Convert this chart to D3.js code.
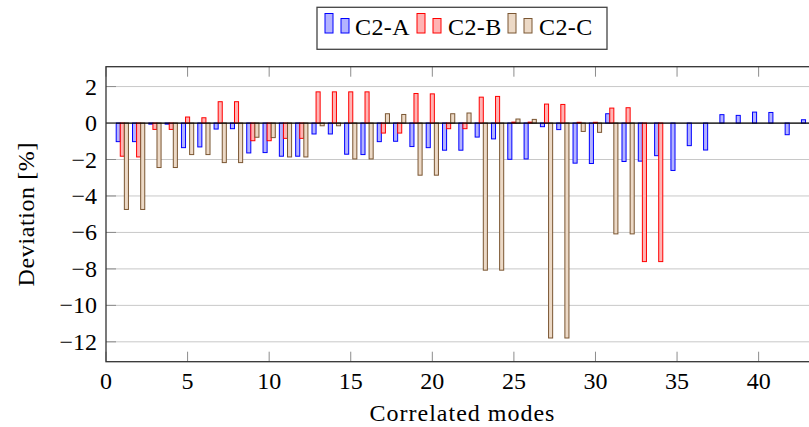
<!DOCTYPE html>
<html>
<head>
<meta charset="utf-8">
<script src="https://cdn.jsdelivr.net/npm/d3@7"></script>
<style>
  html, body { margin: 0; padding: 0; background: #fff; }
  svg { display: block; }
  text { font-family: "Liberation Serif", "Times New Roman", serif; fill: #000; }
</style>
</head>
<body>
<svg id="chart" width="809" height="427"></svg>
<script>
// Correlated mode index (1..43)
const modes = d3.range(1, 44);

// Deviation [%] per mode for each configuration
const c2a = [-1.02, -1.02, -0.06, -0.06, -1.35, -1.31, -0.33, -0.31, -1.64, -1.62,
             -1.82, -1.82, -0.60, -0.60, -1.71, -1.73, -1.02, -1.00, -1.29, -1.35,
             -1.49, -1.49, -0.77, -0.87, -1.99, -1.97, -0.20, -0.36, -2.20, -2.22,
              0.51, -2.11, -2.09, -1.79, -2.60, -1.24, -1.48,  0.46,  0.42,  0.60,
              0.58, -0.64,  0.18];
const c2b = [-1.82, -1.86, -0.35, -0.35,  0.33,  0.29,  1.17,  1.17, -0.97, -0.97,
             -0.84, -0.84,  1.71,  1.71,  1.71,  1.71, -0.55, -0.55,  1.62,  1.60,
             -0.31, -0.31,  1.42,  1.46,  0.05,  0.05,  1.04,  1.02,  0.04,  0.04,
              0.82,  0.84, -7.60, -7.60];
const c2c = [-4.74, -4.74, -2.44, -2.44, -1.73, -1.73, -2.17, -2.17, -0.78, -0.80,
             -1.86, -1.86, -0.15, -0.15, -1.97, -1.97,  0.51,  0.47, -2.86, -2.86,
              0.51,  0.55, -8.07, -8.07,  0.22,  0.20, -11.79, -11.79, -0.46, -0.51,
             -6.08, -6.08];

const seriesNames = ["C2-A", "C2-B", "C2-C"];
const xTicks = [0, 5, 10, 15, 20, 25, 30, 35, 40];
const yTicks = [-12, -10, -8, -6, -4, -2, 0, 2];

const styles = [
  { stroke: "#0000ff", fill: "#b3b3ff" },
  { stroke: "#ff0000", fill: "#ffb3b3" },
  { stroke: "#7a5632", fill: "#ecd9c6" }
];

const svg = d3.select("#chart");
const plotLeft = 106, plotRight = 819, plotTop = 66.7, plotBottom = 361.7;

const x = d3.scaleLinear().domain([0, 43.7]).range([plotLeft, plotRight]);
const y = d3.scaleLinear().domain([-13.09, 3.09]).range([plotBottom, plotTop]);

// horizontal grid
svg.append("g")
  .selectAll("line").data(yTicks).join("line")
  .attr("x1", plotLeft).attr("x2", plotRight)
  .attr("y1", d => y(d)).attr("y2", d => y(d))
  .attr("stroke", "#c8c8c8").attr("stroke-width", 1);

// bars: three series side by side around each mode
const barW = 0.25;
const offsets = [-0.25, 0, 0.25];
[c2a, c2b, c2c].forEach((vals, s) => {
  const data = vals.map((v, i) => ({ m: modes[i], v }));
  svg.append("g")
    .selectAll("rect").data(data).join("rect")
    .attr("x", d => x(d.m + offsets[s] - barW / 2))
    .attr("width", x(barW) - x(0))
    .attr("y", d => y(Math.max(0, d.v)))
    .attr("height", d => Math.abs(y(d.v) - y(0)))
    .attr("fill", styles[s].fill)
    .attr("stroke", styles[s].stroke)
    .attr("stroke-width", 1);
});

// zero line
svg.append("line")
  .attr("x1", plotLeft).attr("x2", plotRight)
  .attr("y1", y(0)).attr("y2", y(0))
  .attr("stroke", "#000").attr("stroke-width", 1.2);

// tick marks (inside the frame)
const tickLen = 10;
const tickG = svg.append("g").attr("stroke", "#8c8c8c").attr("stroke-width", 1);
xTicks.forEach(t => {
  tickG.append("line").attr("x1", x(t)).attr("x2", x(t)).attr("y1", plotBottom).attr("y2", plotBottom - tickLen);
  tickG.append("line").attr("x1", x(t)).attr("x2", x(t)).attr("y1", plotTop).attr("y2", plotTop + tickLen);
});
yTicks.forEach(t => {
  tickG.append("line").attr("x1", plotLeft).attr("x2", plotLeft + tickLen).attr("y1", y(t)).attr("y2", y(t));
});

// frame
svg.append("rect")
  .attr("x", plotLeft).attr("y", plotTop)
  .attr("width", plotRight - plotLeft).attr("height", plotBottom - plotTop)
  .attr("fill", "none").attr("stroke", "#333").attr("stroke-width", 1.3);

// tick labels
const fmt = d => (d < 0 ? "\u2212" + Math.abs(d) : String(d));
svg.append("g")
  .selectAll("text").data(xTicks).join("text")
  .attr("x", d => x(d)).attr("y", 388.5)
  .attr("text-anchor", "middle")
  .attr("font-size", 24)
  .text(fmt);
svg.append("g")
  .selectAll("text").data(yTicks).join("text")
  .attr("x", 97).attr("y", d => y(d) + 8)
  .attr("text-anchor", "end")
  .attr("font-size", 24)
  .text(fmt);

// axis titles
svg.append("text")
  .attr("x", (plotLeft + plotRight) / 2).attr("y", 420.5)
  .attr("text-anchor", "middle")
  .attr("font-size", 24)
  .attr("letter-spacing", 1.0)
  .text("Correlated modes");
svg.append("text")
  .attr("transform", `translate(33.5, ${(plotTop + plotBottom) / 2}) rotate(-90)`)
  .attr("text-anchor", "middle")
  .attr("font-size", 24)
  .attr("letter-spacing", 0.6)
  .text("Deviation [%]");

// legend
const legend = svg.append("g");
legend.append("rect")
  .attr("x", 317).attr("y", 7.3).attr("width", 290).attr("height", 42)
  .attr("fill", "#fff").attr("stroke", "#444").attr("stroke-width", 1.3);
const entryX = [325, 417, 508];
const textX = [355, 448, 539];
seriesNames.forEach((name, s) => {
  legend.append("rect")
    .attr("x", entryX[s]).attr("y", 13.5).attr("width", 8).attr("height", 19.5)
    .attr("fill", styles[s].fill).attr("stroke", styles[s].stroke).attr("stroke-width", 1);
  legend.append("rect")
    .attr("x", entryX[s] + 16).attr("y", 18.5).attr("width", 8).attr("height", 14.5)
    .attr("fill", styles[s].fill).attr("stroke", styles[s].stroke).attr("stroke-width", 1);
  legend.append("text")
    .attr("x", textX[s]).attr("y", 35)
    .attr("font-size", 24)
    .attr("letter-spacing", 0.4)
    .text(name);
});
</script>
</body>
</html>
